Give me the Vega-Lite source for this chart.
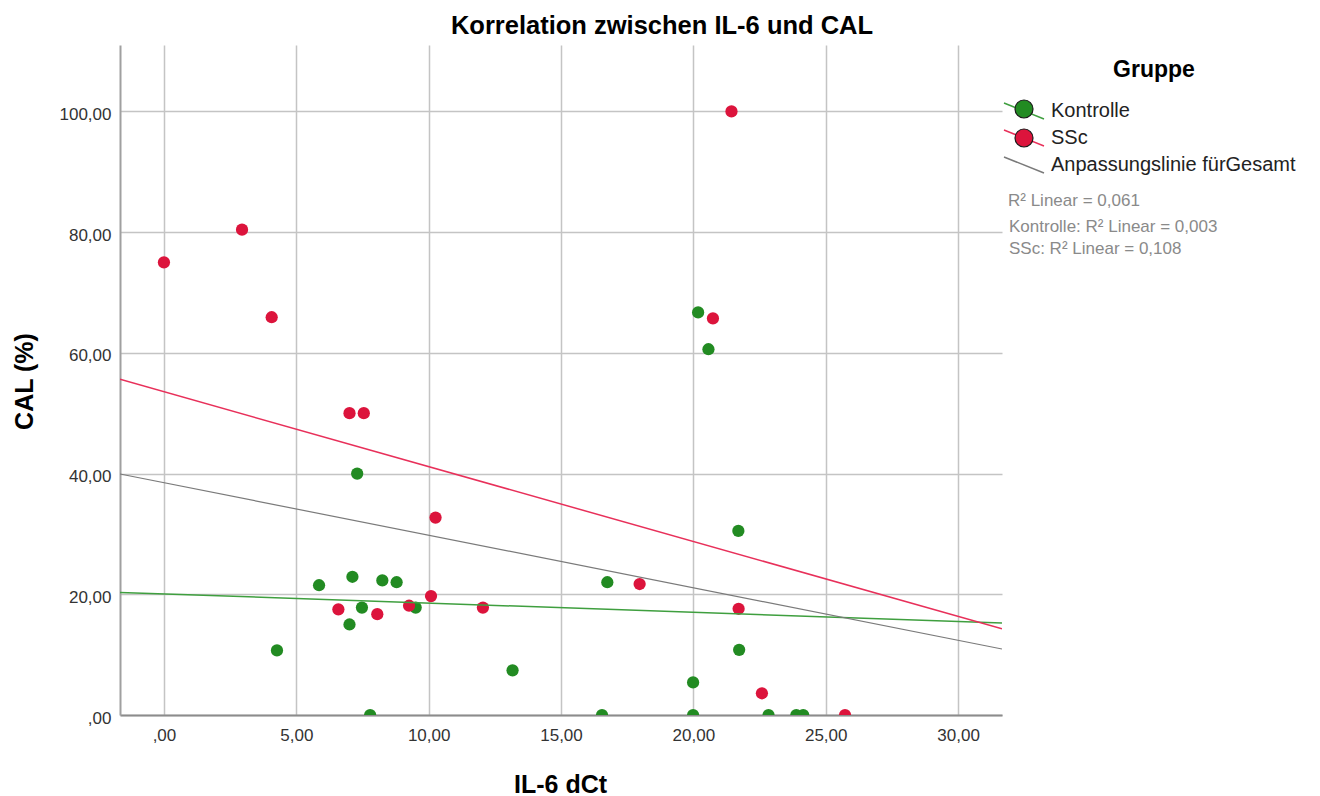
{
  "$schema": "https://vega.github.io/schema/vega-lite/v6.json",
  "width": 882,
  "height": 670,
  "autosize": {"type": "none"},
  "padding": {"left": 120, "top": 45, "right": 318, "bottom": 81},
  "background": "white",
  "config": {"font": "Liberation Sans", "view": {"stroke": null}},
  "title": {"text": "Korrelation zwischen IL-6 und CAL", "fontSize": 25.5, "fontWeight": "bold", "color": "#000000", "anchor": "middle", "frame": "group", "baseline": "alphabetic", "offset": 13, "dx": 101, "dy": 27},
  "data": {"values": [
    {"IL6": 4.27, "CAL": 10.7, "Gruppe": "Kontrolle"},
    {"IL6": 5.86, "CAL": 21.5, "Gruppe": "Kontrolle"},
    {"IL6": 7.01, "CAL": 15.0, "Gruppe": "Kontrolle"},
    {"IL6": 7.12, "CAL": 22.9, "Gruppe": "Kontrolle"},
    {"IL6": 7.30, "CAL": 40.0, "Gruppe": "Kontrolle"},
    {"IL6": 7.48, "CAL": 17.8, "Gruppe": "Kontrolle"},
    {"IL6": 7.79, "CAL": 0.0, "Gruppe": "Kontrolle"},
    {"IL6": 8.25, "CAL": 22.3, "Gruppe": "Kontrolle"},
    {"IL6": 8.79, "CAL": 22.0, "Gruppe": "Kontrolle"},
    {"IL6": 9.51, "CAL": 17.8, "Gruppe": "Kontrolle"},
    {"IL6": 13.17, "CAL": 7.4, "Gruppe": "Kontrolle"},
    {"IL6": 16.55, "CAL": 0.0, "Gruppe": "Kontrolle"},
    {"IL6": 16.75, "CAL": 22.0, "Gruppe": "Kontrolle"},
    {"IL6": 19.99, "CAL": 5.4, "Gruppe": "Kontrolle"},
    {"IL6": 19.99, "CAL": 0.0, "Gruppe": "Kontrolle"},
    {"IL6": 20.18, "CAL": 66.7, "Gruppe": "Kontrolle"},
    {"IL6": 20.57, "CAL": 60.6, "Gruppe": "Kontrolle"},
    {"IL6": 21.70, "CAL": 30.5, "Gruppe": "Kontrolle"},
    {"IL6": 21.73, "CAL": 10.8, "Gruppe": "Kontrolle"},
    {"IL6": 22.84, "CAL": 0.0, "Gruppe": "Kontrolle"},
    {"IL6": 23.89, "CAL": 0.0, "Gruppe": "Kontrolle"},
    {"IL6": 24.15, "CAL": 0.0, "Gruppe": "Kontrolle"},
    {"IL6": 0.0, "CAL": 75.0, "Gruppe": "SSc"},
    {"IL6": 2.95, "CAL": 80.4, "Gruppe": "SSc"},
    {"IL6": 4.07, "CAL": 65.9, "Gruppe": "SSc"},
    {"IL6": 6.59, "CAL": 17.5, "Gruppe": "SSc"},
    {"IL6": 7.01, "CAL": 50.0, "Gruppe": "SSc"},
    {"IL6": 7.55, "CAL": 50.0, "Gruppe": "SSc"},
    {"IL6": 8.06, "CAL": 16.7, "Gruppe": "SSc"},
    {"IL6": 9.26, "CAL": 18.1, "Gruppe": "SSc"},
    {"IL6": 10.09, "CAL": 19.7, "Gruppe": "SSc"},
    {"IL6": 10.26, "CAL": 32.7, "Gruppe": "SSc"},
    {"IL6": 12.05, "CAL": 17.8, "Gruppe": "SSc"},
    {"IL6": 17.97, "CAL": 21.7, "Gruppe": "SSc"},
    {"IL6": 20.74, "CAL": 65.7, "Gruppe": "SSc"},
    {"IL6": 21.44, "CAL": 100.0, "Gruppe": "SSc"},
    {"IL6": 21.71, "CAL": 17.6, "Gruppe": "SSc"},
    {"IL6": 22.59, "CAL": 3.6, "Gruppe": "SSc"},
    {"IL6": 25.73, "CAL": 0.0, "Gruppe": "SSc"}
  ]},
  "encoding": {
    "x": {
      "field": "IL6", "type": "quantitative",
      "scale": {"domain": [-1.66, 31.66], "nice": false, "zero": false},
      "axis": {
        "values": [0, 5, 10, 15, 20, 25, 30],
        "labelExpr": "datum.value == 0 ? ',00' : replace(format(datum.value, '.2f'), '.', ',')",
        "title": "IL-6 dCt", "titleFontSize": 25, "titleFontWeight": "bold", "titleColor": "#000000",
        "titleX": 440, "titleY": 77, "titleBaseline": "alphabetic", "titleAlign": "center", "titleAngle": 0,
        "labelFontSize": 17, "labelColor": "#333333", "labelPadding": 12, "labelBaseline": "top",
        "labelFlush": false, "labelOverlap": false,
        "ticks": false, "tickSize": 0,
        "domainColor": "#8c8c8c", "domainWidth": 2,
        "grid": true, "gridColor": "#c4c4c4", "gridWidth": 1.5
      }
    },
    "y": {
      "field": "CAL", "type": "quantitative",
      "scale": {"domain": [0, 111], "nice": false, "zero": false},
      "axis": {
        "values": [0, 20, 40, 60, 80, 100],
        "labelExpr": "datum.value == 0 ? ',00' : replace(format(datum.value, '.2f'), '.', ',')",
        "title": "CAL (%)", "titleFontSize": 25, "titleFontWeight": "bold", "titleColor": "#000000",
        "titleX": -96, "titleY": 336, "titleAngle": 270, "titleBaseline": "middle", "titleAlign": "center",
        "labelFontSize": 17, "labelColor": "#333333", "labelPadding": 9, "labelOffset": 3, "labelBaseline": "middle",
        "labelFlush": false, "labelOverlap": false,
        "ticks": false, "tickSize": 0,
        "domainColor": "#a0a0a0", "domainWidth": 2,
        "grid": true, "gridColor": "#c4c4c4", "gridWidth": 1.5
      }
    }
  },
  "layer": [
    {
      "mark": {"type": "point", "filled": true, "size": 150, "opacity": 1, "clip": true, "strokeWidth": 0},
      "encoding": {
        "fill": {
          "field": "Gruppe", "type": "nominal",
          "scale": {"domain": ["Kontrolle", "SSc"], "range": ["#228B22", "#DC143C"]},
          "legend": {
            "title": null, "orient": "none", "legendX": 894, "legendY": 54,
            "labelFontSize": 20, "labelColor": "transparent", "labelOffset": 16, "labelLimit": 400,
            "symbolType": "circle", "symbolSize": 324, "symbolStrokeColor": "#1a1a1a", "symbolStrokeWidth": 1.2,
            "rowPadding": 5, "padding": 0, "zindex": 2
          }
        }
      }
    },
    {
      "transform": [{"regression": "CAL", "on": "IL6", "groupby": ["Gruppe"], "extent": [-1.66, 31.66]}],
      "mark": {"type": "line", "clip": true, "strokeWidth": 1.5},
      "encoding": {
        "stroke": {
          "field": "Gruppe", "type": "nominal",
          "scale": {"domain": ["Kontrolle", "SSc", "Anpassungslinie fürGesamt"], "range": ["#3f9f3f", "#e8305a", "#7a7a7a"]},
          "legend": {
            "title": "Gruppe", "orient": "none", "legendX": 893, "legendY": 14,
            "titleFontSize": 23, "titleFontWeight": "bold", "titleColor": "#000000", "titleAnchor": "middle", "titlePadding": 18,
            "labelFontSize": 20, "labelColor": "#222222", "labelOffset": 16, "labelLimit": 400,
            "symbolType": "M-2,-0.8L2,0.8", "symbolSize": 400, "symbolStrokeWidth": 1.5,
            "rowPadding": 5, "padding": 0, "zindex": 1
          }
        }
      }
    },
    {
      "transform": [{"regression": "CAL", "on": "IL6", "extent": [-1.66, 31.66]}],
      "mark": {"type": "line", "clip": true, "strokeWidth": 1.2},
      "encoding": {
        "stroke": {"datum": "Anpassungslinie fürGesamt", "type": "nominal"}
      }
    },
    {
      "data": {"values": [
        {"r2": "Kontrolle: R² Linear = 0,003"},
        {"r2": "SSc: R² Linear = 0,108"}
      ]},
      "mark": {"type": "point", "opacity": 0},
      "encoding": {
        "shape": {
          "field": "r2", "type": "nominal",
          "scale": {"domain": ["Kontrolle: R² Linear = 0,003", "SSc: R² Linear = 0,108"]},
          "legend": {
            "title": "R² Linear = 0,061", "orient": "none", "legendX": 888, "legendY": 148,
            "titleFontSize": 17, "titleFontWeight": "normal", "titleColor": "#8a8a8a", "titlePadding": 8,
            "labelFontSize": 17, "labelColor": "#8a8a8a", "labelOffset": -16, "labelLimit": 400,
            "symbolSize": 1, "symbolOpacity": 0, "rowPadding": 4.5, "padding": 0
          }
        }
      }
    }
  ]
}
